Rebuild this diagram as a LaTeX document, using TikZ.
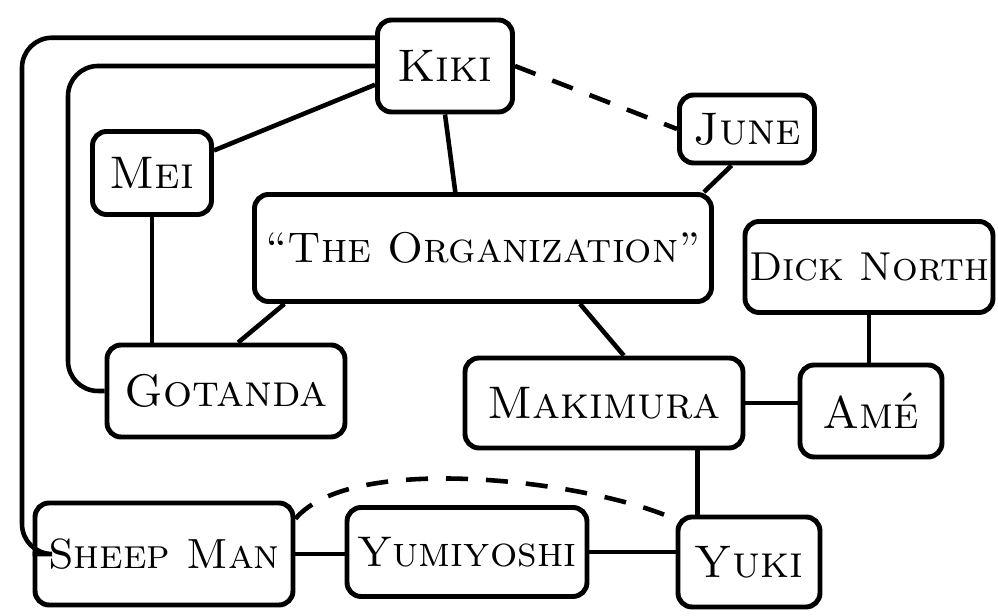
\documentclass[tikz,border=0pt]{standalone}
\usetikzlibrary{calc}

\begin{document}
\begin{tikzpicture}[font=\fontsize{13}{15}\selectfont\scshape,
  namebox/.style = {draw, rounded corners=4pt, line width=1.4pt, inner sep=0pt, align=center},
  smaller/.style = {font=\fontsize{#1}{14}\selectfont\scshape},
  tie/.style = {line width=1.3pt},
  looselink/.style = {line width=1.3pt, dash pattern=on 2.2mm off 1.8mm},
  rail/.style = {line width=1.3pt, rounded corners=3mm}
]
\useasboundingbox (0,0) rectangle (99.8mm,-61.6mm);
\node[namebox, minimum width=13.5mm, minimum height=9.2mm] (kiki) at (44.5mm,-6.6mm) {Kiki};
\node[namebox, minimum width=13.5mm, minimum height=6.8mm] (june) at (74.7mm,-12.9mm) {June};
\node[namebox, minimum width=11.9mm, minimum height=8.3mm] (mei) at (15.2mm,-17.3mm) {Mei};
\node[namebox, smaller=12.2, minimum width=45.7mm, minimum height=10.7mm] (org) at (48.3mm,-24.8mm) {``The Organization''};
\node[namebox, smaller=11.5, minimum width=24.8mm, minimum height=9.1mm] (dick) at (86.9mm,-26.7mm) {Dick North};
\node[namebox, minimum width=23.8mm, minimum height=9.2mm] (gotanda) at (22.6mm,-39.1mm) {Gotanda};
\node[namebox, minimum width=27.8mm, minimum height=9.0mm] (makimura) at (60.4mm,-40.3mm) {Makimura};
\node[namebox, minimum width=14.2mm, minimum height=9.2mm] (ame) at (87.1mm,-41.1mm) {Amé};
\node[namebox, smaller=12, minimum width=25.8mm, minimum height=10.2mm] (sheep) at (16.4mm,-55.4mm) {Sheep Man};
\node[namebox, smaller=12.2, minimum width=24.0mm, minimum height=8.9mm] (yumi) at (46.7mm,-55.2mm) {Yumiyoshi};
\node[namebox, minimum width=14.2mm, minimum height=9.0mm] (yuki) at (74.9mm,-56.2mm) {Yuki};
% the two long rails on the left
\coordinate (outerrail) at (2.2mm,0);
\coordinate (innerrail) at (6.8mm,0);
\draw[rail] (kiki.158) -| (outerrail |- sheep.west) -- (sheep.west);
\draw[rail] (kiki.west) -| (innerrail |- gotanda.west) -- (gotanda.west);
% solid ties
\draw[tie] (kiki.195) -- (mei.20);
\draw[tie] (kiki.south) -- ($(org.north west)!0.44!(org.north east)$);
\draw[tie] ($(june.south west)!0.39!(june.south east)$) -- ($(org.north east)+(-1mm,0)$);
\draw[tie] (mei.south) -- (mei.south |- gotanda.north);
\draw[tie] ($(org.south west)!0.07!(org.south east)$) -- ($(gotanda.north west)!0.55!(gotanda.north east)$);
\draw[tie] ($(org.south west)!0.71!(org.south east)$) -- ($(makimura.north west)!0.57!(makimura.north east)$);
\draw[tie] (dick.south) -- (dick.south |- ame.north);
\draw[tie] (makimura.east) -- (makimura.east -| ame.west);
\draw[tie] ($(makimura.south west)!0.83!(makimura.south east)$) coordinate (mk) -- (mk |- yuki.north);
\draw[tie] (sheep.east) -- (sheep.east -| yumi.west);
\draw[tie] (yumi.east) -- (yumi.east -| yuki.west);
% dashed ties
\draw[looselink] (kiki.east) -- (june.west);
\draw[looselink] (sheep.15) to[out=50, in=155, looseness=0.6] (yuki.150);
\end{tikzpicture}
\end{document}
